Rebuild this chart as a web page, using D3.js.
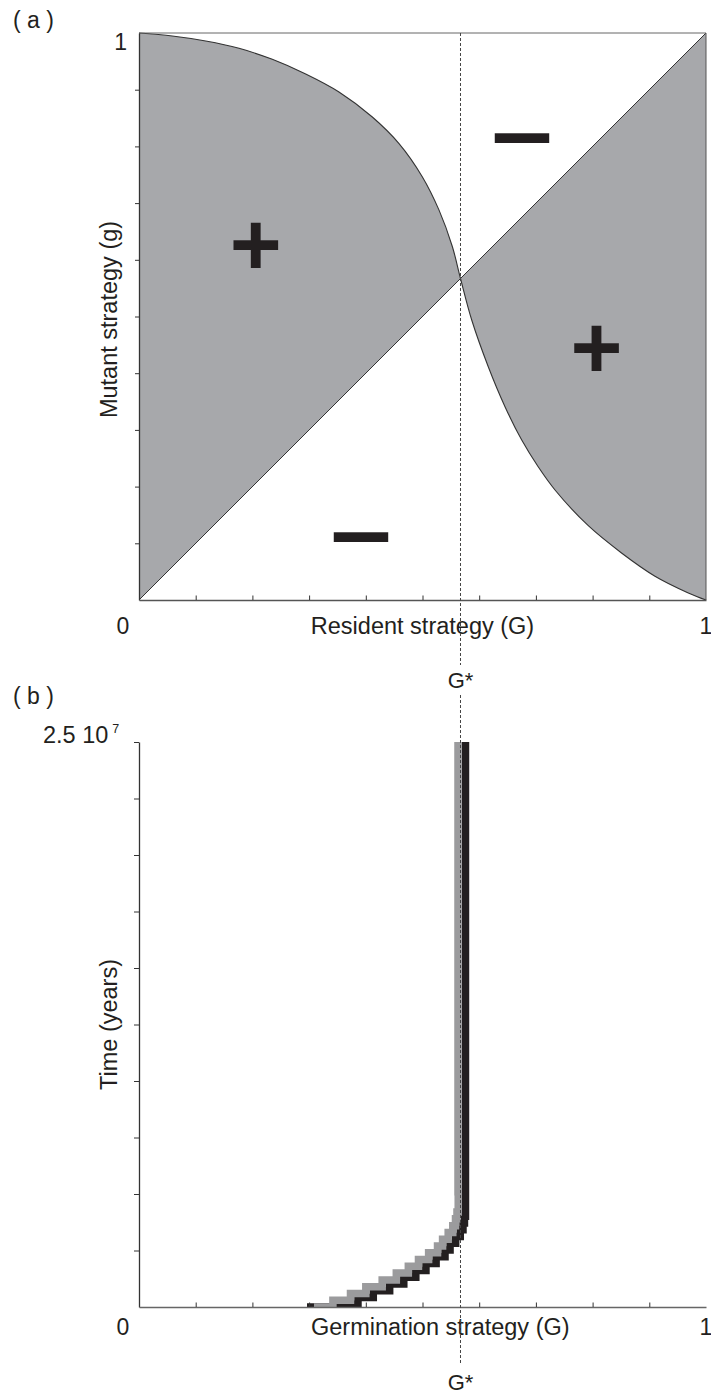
<!DOCTYPE html>
<html>
<head>
<meta charset="utf-8">
<script src="https://cdn.jsdelivr.net/npm/d3@7"></script>
<style>
  html, body { margin: 0; padding: 0; background: #fff; }
  svg { display: block; font-family: "Liberation Sans", Arial, sans-serif; }
</style>
</head>
<body>
<svg id="chart" width="711" height="1394"></svg>
<script>
// ---------- data ----------
// Panel (a): boundary curve of the pairwise invasibility plot (resident G, mutant g)
const curveG = [0, 0.0587, 0.1176, 0.1764, 0.2351, 0.294, 0.3527, 0.4115, 0.4586, 0.4996, 0.529, 0.5526, 0.567, 0.5868, 0.616, 0.6455, 0.675, 0.704, 0.7337, 0.7924, 0.851, 0.910, 0.9688, 1.0];
const curveg = [1.0, 0.9947, 0.9859, 0.973, 0.9536, 0.9277, 0.8960, 0.8519, 0.805, 0.7466, 0.688, 0.6235, 0.567, 0.4938, 0.4115, 0.341, 0.282, 0.235, 0.194, 0.131, 0.083, 0.042, 0.0125, 0.0];
const Gstar = 0.567;
const signLabels = [
  {G: 0.206, g: 0.632, s: "+"},
  {G: 0.807, g: 0.450, s: "+"},
  {G: 0.675, g: 0.817, s: "\u2212"},
  {G: 0.391, g: 0.113, s: "\u2212"}
];
const axisEndLabels = ["0", "1"];

// Panel (b): evolutionary trajectories (time in years, germination strategy G)
const grayTime  = [0, 0.3e6, 0.6e6, 0.9e6, 1.2e6, 1.5e6, 1.8e6, 2.1e6, 2.4e6, 2.7e6, 3.0e6, 3.3e6, 3.6e6, 3.9e6, 4.2e6, 4.5e6, 4.8e6, 5.1e6, 5.4e6, 2.5e7];
const grayG     = [0.3086, 0.3420, 0.3730, 0.4000, 0.4289, 0.4538, 0.4750, 0.4929, 0.5108, 0.5265, 0.5354, 0.5453, 0.5534, 0.5582, 0.5608, 0.5630, 0.5630, 0.5630, 0.5626, 0.5626];
const blackTime = [0, 0.12e6, 0.42e6, 0.72e6, 1.02e6, 1.32e6, 1.62e6, 1.92e6, 2.22e6, 2.52e6, 2.82e6, 3.12e6, 3.42e6, 3.72e6, 4.02e6, 4.32e6, 4.62e6, 4.92e6, 5.22e6, 2.5e7];
const blackG    = [0.2963, 0.3552, 0.3862, 0.4132, 0.4421, 0.4670, 0.4882, 0.5061, 0.5240, 0.5397, 0.5486, 0.5585, 0.5666, 0.5714, 0.5740, 0.5758, 0.5758, 0.5758, 0.5758, 0.5758];
const timeMax = 2.5e7;
const tickFractions = [0.1, 0.2, 0.3, 0.4, 0.5, 0.6, 0.7, 0.8, 0.9];

// ---------- drawing ----------
const svg = d3.select("#chart");
const FONT = 23.5;
const ink = "#231f20";

// scales
const xA = d3.scaleLinear().domain([0, 1]).range([139, 706]);
const yA = d3.scaleLinear().domain([0, 1]).range([600, 33]);
const xB = d3.scaleLinear().domain([0, 1]).range([139, 706]);
const yB = d3.scaleLinear().domain([0, timeMax]).range([1307, 742]);

// ===== Panel (a) =====
const pts = curveG.map((G, i) => ({G, g: curveg[i]}));
const gA = svg.append("g");
const smooth = d3.curveCatmullRom.alpha(0.5);

// shaded region between diagonal and boundary curve
gA.append("path")
  .datum(pts)
  .attr("fill", "#a7a8ab")
  .attr("stroke", "none")
  .attr("d", d3.area().curve(smooth)
    .x(d => xA(d.G)).y0(d => yA(d.G)).y1(d => yA(d.g)));

// diagonal g = G
gA.append("path")
  .datum([0, 1])
  .attr("fill", "none").attr("stroke", "#333").attr("stroke-width", 1)
  .attr("d", d3.line().x(d => xA(d)).y(d => yA(d)));

// boundary curve
gA.append("path")
  .datum(pts)
  .attr("fill", "none").attr("stroke", "#333").attr("stroke-width", 1.1)
  .attr("d", d3.line().curve(smooth).x(d => xA(d.G)).y(d => yA(d.g)));

// frame top and right
gA.append("line").attr("x1", xA(0)).attr("x2", xA(1)).attr("y1", yA(1)).attr("y2", yA(1))
  .attr("stroke", "#666").attr("stroke-width", 1);
gA.append("line").attr("x1", xA(1)).attr("x2", xA(1)).attr("y1", yA(1)).attr("y2", yA(0))
  .attr("stroke", "#555").attr("stroke-width", 1);

// axes
const axLeftA = gA.append("g").attr("transform", `translate(${xA(0)},0)`)
  .call(d3.axisLeft(yA).tickValues(tickFractions).tickSize(4).tickSizeOuter(0).tickFormat(""));
const axBotA = gA.append("g").attr("transform", `translate(0,${yA(0)})`)
  .call(d3.axisBottom(xA).tickValues(tickFractions).tickSize(-4.5).tickSizeOuter(0).tickFormat(""));
[axLeftA, axBotA].forEach(ax => {
  ax.select(".domain").attr("stroke", "#333").attr("stroke-width", 1.3);
  ax.selectAll(".tick line").attr("stroke", "#333").attr("stroke-width", 1);
});
axBotA.select(".domain").attr("stroke", "#555");

// sign annotations
signLabels.forEach(d => {
  const isPlus = d.s === "+";
  gA.append("text")
    .attr("transform", `translate(${xA(d.G)},${yA(d.g)}) scale(${isPlus ? 1 : 1.22},1)`)
    .attr("x", 0).attr("y", isPlus ? 33 : 31)
    .attr("text-anchor", "middle")
    .attr("font-size", 89).attr("font-weight", "bold")
    .attr("fill", ink)
    .text(d.s);
});

// labels
svg.append("text").attr("x", 13).attr("y", 28).attr("font-size", 23).attr("fill", ink).text("( a )");
svg.append("text").attr("x", xA(0) - 12).attr("y", 50).attr("text-anchor", "end")
  .attr("font-size", 23).attr("fill", ink).text(axisEndLabels[1]);
svg.append("text").attr("x", xA(0) - 16).attr("y", 634).attr("text-anchor", "middle")
  .attr("font-size", 23).attr("fill", ink).text(axisEndLabels[0]);
svg.append("text").attr("x", xA(1)).attr("y", 634).attr("text-anchor", "middle")
  .attr("font-size", 23).attr("fill", ink).text(axisEndLabels[1]);
svg.append("text").attr("x", (xA(0) + xA(1)) / 2).attr("y", 634).attr("text-anchor", "middle")
  .attr("font-size", FONT).attr("fill", ink).text("Resident strategy (G)");
svg.append("text").attr("transform", `translate(117,${(yA(0) + yA(1)) / 2 + 3}) rotate(-90)`)
  .attr("text-anchor", "middle").attr("font-size", FONT).attr("fill", ink).text("Mutant strategy (g)");

// ===== Panel (b) =====
const gB = svg.append("g");
svg.append("defs").append("clipPath").attr("id", "clipB")
  .append("rect").attr("x", xB(0)).attr("y", yB(timeMax)).attr("width", xB(1) - xB(0)).attr("height", yB(0) - yB(timeMax));

const stepLine = d3.line().curve(d3.curveStepAfter).x(d => xB(d.G)).y(d => yB(d.t));
const blackPts = blackTime.map((t, i) => ({t, G: blackG[i]}));
const grayPts  = grayTime.map((t, i) => ({t, G: grayG[i]}));

gB.append("path").datum(blackPts)
  .attr("clip-path", "url(#clipB)")
  .attr("fill", "none").attr("stroke", ink).attr("stroke-width", 7.5)
  .attr("stroke-linecap", "butt").attr("stroke-linejoin", "miter")
  .attr("d", stepLine);
gB.append("path").datum(grayPts)
  .attr("clip-path", "url(#clipB)")
  .attr("fill", "none").attr("stroke", "#9b9b9d").attr("stroke-width", 7.5)
  .attr("stroke-linecap", "butt").attr("stroke-linejoin", "miter")
  .attr("d", stepLine);

// axes
const axLeftB = gB.append("g").attr("transform", `translate(${xB(0)},0)`)
  .call(d3.axisLeft(yB).tickValues(tickFractions.map(f => f * timeMax).concat([timeMax]))
    .tickSize(5).tickSizeOuter(0).tickFormat(""));
const axBotB = gB.append("g").attr("transform", `translate(0,${yB(0)})`)
  .call(d3.axisBottom(xB).tickValues(tickFractions).tickSize(-4.5).tickSizeOuter(0).tickFormat(""));
[axLeftB, axBotB].forEach(ax => {
  ax.select(".domain").attr("stroke", "#333").attr("stroke-width", 1.3);
  ax.selectAll(".tick line").attr("stroke", "#333").attr("stroke-width", 1);
});
axBotB.select(".domain").attr("stroke", "#666").attr("stroke-width", 1.6);

// labels
svg.append("text").attr("x", 13).attr("y", 704).attr("font-size", 23).attr("fill", ink).text("( b )");
const tl = svg.append("text").attr("x", 43).attr("y", 743).attr("font-size", 23.5).attr("fill", ink);
tl.append("tspan").text("2.5 10");
tl.append("tspan").attr("dx", 4).attr("dy", -10).attr("font-size", 12.5).text("7");
svg.append("text").attr("x", xB(0) - 16).attr("y", 1335).attr("text-anchor", "middle")
  .attr("font-size", 23).attr("fill", ink).text(axisEndLabels[0]);
svg.append("text").attr("x", xB(1)).attr("y", 1335).attr("text-anchor", "middle")
  .attr("font-size", 23).attr("fill", ink).text(axisEndLabels[1]);
svg.append("text").attr("x", 311).attr("y", 1335)
  .attr("font-size", FONT).attr("fill", ink).text("Germination strategy (G)");
svg.append("text").attr("transform", `translate(117,${(yB(0) + yB(timeMax)) / 2}) rotate(-90)`)
  .attr("text-anchor", "middle").attr("font-size", FONT).attr("fill", ink).text("Time (years)");

// ===== G* dashed reference line and labels =====
const xs = xA(Gstar);
[[yA(1), 665], [695, 1365]].forEach(([y1, y2]) => {
  svg.append("line").attr("x1", xs).attr("x2", xs).attr("y1", y1).attr("y2", y2)
    .attr("stroke", "#444").attr("stroke-width", 1).attr("stroke-dasharray", "3,2");
});
[688, 1390].forEach(y => {
  svg.append("text").attr("x", xs).attr("y", y).attr("text-anchor", "middle")
    .attr("font-size", 22).attr("fill", ink).text("G*");
});
</script>
</body>
</html>
